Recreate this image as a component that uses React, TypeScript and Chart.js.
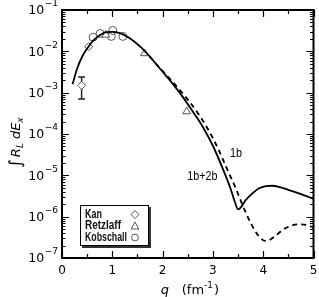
import React, { useEffect, useRef } from 'react';
import { Chart, registerables } from 'chart.js';
Chart.register(...registerables);

// 1b+2b (solid)
const solidQ = [0.21, 0.3, 0.4, 0.5, 0.62, 0.75, 0.88, 1.0, 1.15, 1.34, 1.55, 1.74, 2.0, 2.2, 2.4, 2.6, 2.8, 3.0, 3.2, 3.35, 3.44, 3.5, 3.56, 3.65, 3.78, 3.91, 4.05, 4.17, 4.35, 4.51, 4.75, 5.0];
const solidV = [1.6e-3, 3.8e-3, 7.4e-3, 1.17e-2, 1.82e-2, 2.45e-2, 2.9e-2, 2.95e-2, 2.75e-2, 2.1e-2, 1.32e-2, 7.6e-3, 3.2e-3, 1.66e-3, 7.9e-4, 3.5e-4, 1.48e-4, 5.2e-5, 1.41e-5, 4.8e-6, 2.2e-6, 1.5e-6, 1.7e-6, 2.5e-6, 3.6e-6, 4.8e-6, 5.5e-6, 5.6e-6, 5.1e-6, 4.4e-6, 3.5e-6, 2.7e-6];
// 1b (dashed)
const dashQ = [1.74, 1.9, 2.1, 2.3, 2.5, 2.7, 2.9, 3.1, 3.3, 3.45, 3.6, 3.75, 3.9, 4.0, 4.05, 4.12, 4.25, 4.4, 4.55, 4.7, 4.85, 5.0];
const dashV = [7.6e-3, 4.5e-3, 2.5e-3, 1.32e-3, 6.8e-4, 3.2e-4, 1.32e-4, 4.5e-5, 1.26e-5, 5.0e-6, 1.78e-6, 7.1e-7, 3.5e-7, 2.7e-7, 2.6e-7, 2.7e-7, 3.5e-7, 4.9e-7, 6.0e-7, 6.5e-7, 6.3e-7, 5.5e-7];
// data sets
const kanQ = [0.39, 0.53];
const kanV = [1.5e-3, 1.3e-2];
const kanLo = [7e-4, null];
const kanHi = [2.4e-3, null];
const retzQ = [0.87, 1.64, 2.48];
const retzV = [2.5e-2, 8.9e-3, 3.5e-4];
const kobQ = [0.62, 0.76, 0.98, 1.01, 1.21];
const kobV = [2.2e-2, 2.7e-2, 2.3e-2, 3.2e-2, 2.3e-2];
// axes
const xTicks = [0, 1, 2, 3, 4, 5];
const yExps = [-7, -6, -5, -4, -3, -2, -1];
const legendNames = ['Kan', 'Retzlaff', 'Kobschall'];
const curveLabelText = ['1b', '1b+2b'];
const curveLabelQ = [3.46, 2.79];
const curveLabelV = [3.4e-5, 9.5e-6];

const MARK = '#555555';
const LBL = '"Liberation Sans", Arial, sans-serif';
const SANS = '"DejaVu Sans", sans-serif';

function drawSymbol(ctx: CanvasRenderingContext2D, kind: string, x: number, y: number, r: number) {
  ctx.beginPath();
  if (kind === 'diamond') {
    ctx.moveTo(x, y - r); ctx.lineTo(x + r, y); ctx.lineTo(x, y + r); ctx.lineTo(x - r, y); ctx.closePath();
  } else if (kind === 'triangle') {
    ctx.moveTo(x, y - r); ctx.lineTo(x + r * 0.95, y + r * 0.75); ctx.lineTo(x - r * 0.95, y + r * 0.75); ctx.closePath();
  } else {
    ctx.arc(x, y, r * 0.85, 0, Math.PI * 2);
  }
  ctx.fillStyle = '#fff';
  ctx.fill();
  ctx.strokeStyle = MARK;
  ctx.lineWidth = 1;
  ctx.stroke();
}

function fitText(ctx: CanvasRenderingContext2D, text: string, x: number, y: number, width: number) {
  const w = ctx.measureText(text).width;
  const s = Math.min(1.15, width / w);
  ctx.save();
  ctx.translate(x, y);
  ctx.scale(s, 1);
  ctx.fillText(text, 0, 0);
  ctx.restore();
}

const decorPlugin = {
  id: 'decor',
  beforeDatasetsDraw(chart: any) {
    const ctx = chart.ctx as CanvasRenderingContext2D;
    const xs = chart.scales.x, ys = chart.scales.y;
    ctx.save();
    ctx.strokeStyle = '#222';
    ctx.lineWidth = 1.5;
    kanQ.forEach((q, i) => {
      const lo = kanLo[i], hi = kanHi[i];
      if (lo == null || hi == null) return;
      const px = xs.getPixelForValue(q);
      const y1 = ys.getPixelForValue(lo), y2 = ys.getPixelForValue(hi);
      ctx.beginPath();
      ctx.moveTo(px, y1); ctx.lineTo(px, y2);
      ctx.moveTo(px - 3.5, y1); ctx.lineTo(px + 3.5, y1);
      ctx.moveTo(px - 3.5, y2); ctx.lineTo(px + 3.5, y2);
      ctx.stroke();
    });
    ctx.restore();
  },
  afterDraw(chart: any) {
    const ctx = chart.ctx as CanvasRenderingContext2D;
    const xs = chart.scales.x, ys = chart.scales.y;
    const a = chart.chartArea;
    ctx.save();
    // ticks
    ctx.strokeStyle = '#000';
    ctx.lineWidth = 1.2;
    ctx.beginPath();
    for (let q = 0; q <= 5.001; q += 0.5) {
      const px = Math.round(xs.getPixelForValue(q)) + 0.5;
      const len = Math.abs(q - Math.round(q)) < 1e-6 ? 7 : 4;
      ctx.moveTo(px, a.bottom); ctx.lineTo(px, a.bottom - len);
      ctx.moveTo(px, a.top); ctx.lineTo(px, a.top + len);
    }
    for (let e = -7; e < -1; e++) {
      for (let k = 1; k <= 9; k++) {
        const v = k * Math.pow(10, e);
        const py = Math.round(ys.getPixelForValue(v)) + 0.5;
        const len = k === 1 ? 7 : 3.5;
        ctx.moveTo(a.left, py); ctx.lineTo(a.left + len, py);
        ctx.moveTo(a.right, py); ctx.lineTo(a.right - len, py);
      }
    }
    ctx.stroke();
    // frame
    ctx.lineWidth = 2;
    ctx.strokeRect(a.left, a.top, a.right - a.left, a.bottom - a.top);

    // x tick labels
    ctx.fillStyle = '#000';
    ctx.font = `12px ${SANS}`;
    ctx.textAlign = 'center';
    ctx.textBaseline = 'middle';
    xTicks.forEach((t) => {
      ctx.fillText(String(t), xs.getPixelForValue(t), a.bottom + 13);
    });
    // y tick labels
    yExps.forEach((e) => {
      const py = ys.getPixelForValue(Math.pow(10, e));
      const sup = '\u2212' + String(-e);
      ctx.font = `9px ${SANS}`;
      const supW = ctx.measureText(sup).width;
      const right = a.left - 4;
      ctx.textAlign = 'left';
      ctx.fillText(sup, right - supW, py - 6);
      ctx.font = `12.5px ${SANS}`;
      ctx.textAlign = 'right';
      ctx.fillText('10', right - supW - 0.5, py + 1);
    });
    // x title
    ctx.textAlign = 'left';
    ctx.textBaseline = 'alphabetic';
    const cx = (a.left + a.right) / 2;
    const tb = 296;
    ctx.font = `italic 13px ${SANS}`;
    ctx.fillText('q', cx - 27, tb - 2);
    ctx.font = `13px ${SANS}`;
    let tx = cx - 6;
    ctx.fillText('(fm', tx, tb - 2);
    tx += ctx.measureText('(fm').width;
    ctx.font = `9px ${SANS}`;
    ctx.fillText('-1', tx, tb - 8);
    tx += ctx.measureText('-1').width;
    ctx.font = `13px ${SANS}`;
    ctx.fillText(')', tx + 1, tb - 2);

    // y title
    ctx.save();
    ctx.translate(20, (a.top + a.bottom) / 2 + 6);
    ctx.rotate(-Math.PI / 2);
    ctx.textAlign = 'left';
    ctx.textBaseline = 'alphabetic';
    let ux = -28;
    ctx.font = `17px ${SANS}`;
    ctx.fillText('\u222B', ux, 1);
    ux += ctx.measureText('\u222B').width + 2;
    ctx.font = `italic 13px ${SANS}`;
    ctx.fillText('R', ux, 0);
    ux += ctx.measureText('R').width;
    ctx.font = `italic 9px ${SANS}`;
    ctx.fillText('L', ux, 3);
    ux += ctx.measureText('L').width + 4;
    ctx.font = `italic 13px ${SANS}`;
    ctx.fillText('dE', ux, 0);
    ux += ctx.measureText('dE').width;
    ctx.font = `italic 9px ${SANS}`;
    ctx.fillText('x', ux, 3);
    ctx.restore();

    // curve labels
    ctx.font = `12px ${LBL}`;
    ctx.textAlign = 'left';
    ctx.textBaseline = 'middle';
    const labelW = [12, 30];
    curveLabelText.forEach((t, i) => {
      const px = xs.getPixelForValue(curveLabelQ[i]);
      fitText(ctx, t, px - labelW[i] / 2, ys.getPixelForValue(curveLabelV[i]), labelW[i]);
    });

    // legend
    const lx = 80, ly = 205, lw = 69, lh = 41;
    ctx.fillStyle = '#333';
    ctx.fillRect(lx + 2, ly + 2, lw, lh);
    ctx.fillStyle = '#fff';
    ctx.fillRect(lx, ly, lw, lh);
    ctx.strokeStyle = '#000';
    ctx.lineWidth = 1;
    ctx.strokeRect(lx + 0.5, ly + 0.5, lw - 1, lh - 1);
    const kinds = ['diamond', 'triangle', 'circle'];
    const legendW = [17, 36, 42];
    ctx.font = `bold 12px ${LBL}`;
    ctx.textAlign = 'left';
    legendNames.forEach((n, i) => {
      const yy = ly + 9.5 + i * 11.5;
      ctx.fillStyle = '#111';
      fitText(ctx, n, lx + 5, yy, legendW[i]);
      drawSymbol(ctx, kinds[i], lx + 55, yy, 4);
    });
    ctx.restore();
  },
};

export default function App() {
  const ref = useRef<HTMLCanvasElement | null>(null);
  useEffect(() => {
    if (!ref.current) return;
    const pts = (qs: number[], vs: number[]) => qs.map((q, i) => ({ x: q, y: vs[i] }));
    const scatterBase = {
      showLine: false,
      pointBackgroundColor: '#fff',
      pointBorderColor: MARK,
      pointBorderWidth: 1,
    };
    const chart = new Chart(ref.current, {
      type: 'scatter',
      data: {
        datasets: [
          {
            label: '1b',
            data: pts(dashQ, dashV),
            showLine: true,
            borderColor: '#000',
            borderWidth: 1.8,
            borderDash: [5, 4],
            pointRadius: 0,
            cubicInterpolationMode: 'monotone',
          } as any,
          {
            label: '1b+2b',
            data: pts(solidQ, solidV),
            showLine: true,
            borderColor: '#000',
            borderWidth: 1.8,
            pointRadius: 0,
            cubicInterpolationMode: 'monotone',
          } as any,
          { label: 'Kan', data: pts(kanQ, kanV), pointStyle: 'rectRot', pointRadius: 4, ...scatterBase } as any,
          { label: 'Retzlaff', data: pts(retzQ, retzV), pointStyle: 'triangle', pointRadius: 4.5, ...scatterBase } as any,
          { label: 'Kobschall', data: pts(kobQ, kobV), pointStyle: 'circle', pointRadius: 4, ...scatterBase } as any,
        ],
      },
      options: {
        responsive: false,
        animation: false,
        layout: { padding: { top: 10, right: 4, left: 0, bottom: 0 } },
        plugins: { legend: { display: false }, tooltip: { enabled: false } },
        scales: {
          x: {
            type: 'linear',
            min: 0,
            max: 5,
            grid: { display: false },
            border: { display: false },
            ticks: { display: false },
            afterFit: (s: any) => { s.height = 39; },
          },
          y: {
            type: 'logarithmic',
            min: 1e-7,
            max: 1e-1,
            grid: { display: false },
            border: { display: false },
            ticks: { display: false },
            afterFit: (s: any) => { s.width = 62; },
          },
        },
      } as any,
      plugins: [decorPlugin],
    });
    return () => chart.destroy();
  }, []);
  return (
    <div style={{ position: 'absolute', left: 0, top: 0, width: 319, height: 297, background: '#fff' }}>
      <canvas ref={ref} width={319} height={297} style={{ width: 319, height: 297 }} />
    </div>
  );
}
